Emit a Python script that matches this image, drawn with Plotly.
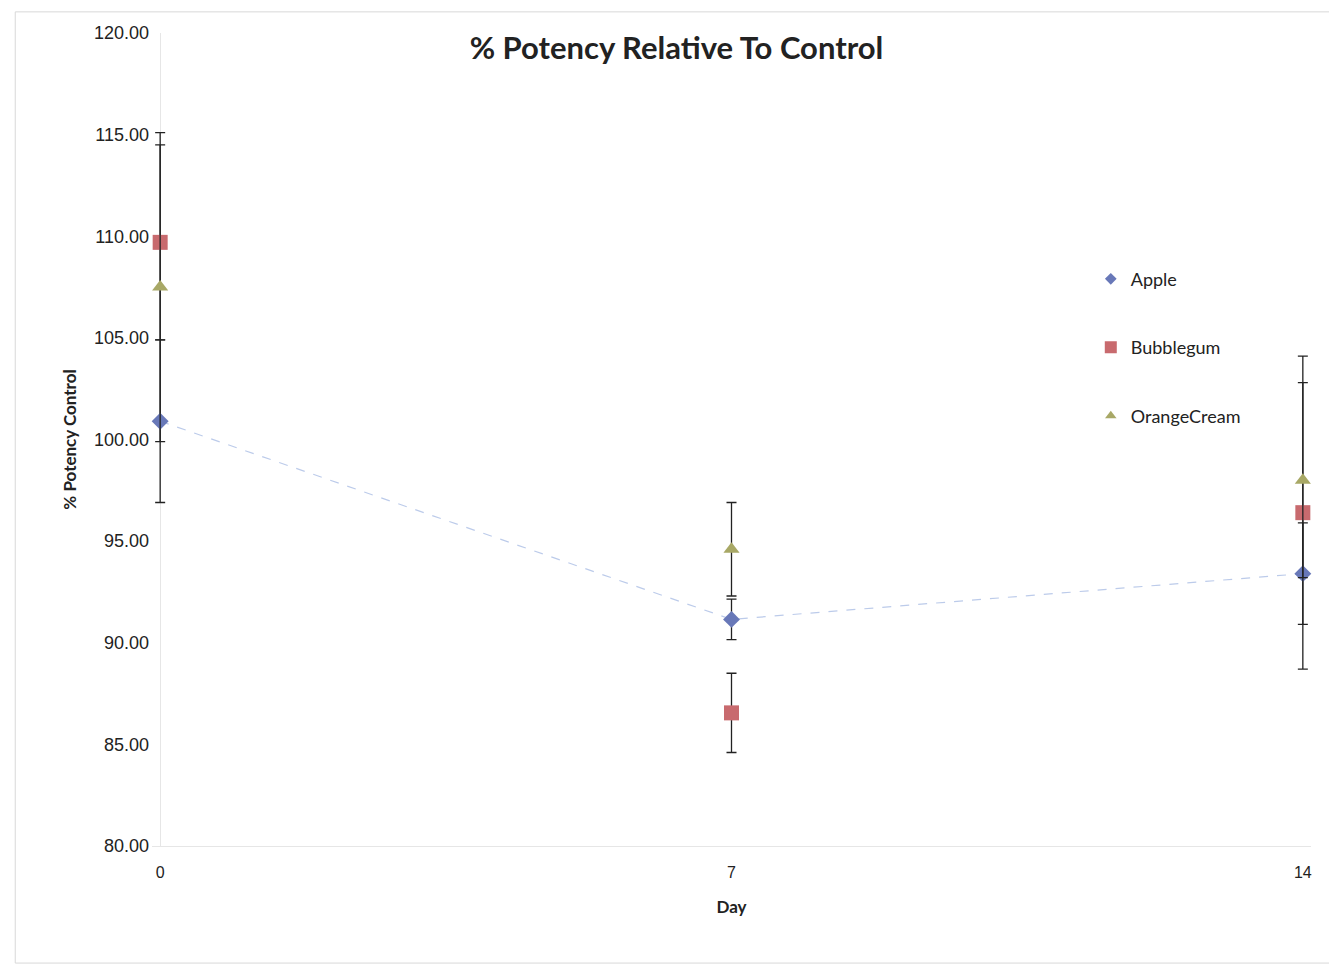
import plotly.graph_objects as go

days = [0, 7, 14]
apple = [100.9, 91.15, 93.4]
apple_err = [4.0, 1.0, 2.5]
bubblegum = [109.7, 86.55, 96.4]
bubblegum_err = [4.8, 1.95, 7.7]
orange = [107.5, 94.6, 98.0]
orange_err = [7.6, 2.3, 4.8]
y_ticks = [80, 85, 90, 95, 100, 105, 110, 115, 120]

fig = go.Figure()

# Apple connecting line (not in legend)
fig.add_trace(go.Scatter(
    x=days, y=apple, mode="lines", showlegend=False, hoverinfo="skip",
    line=dict(color="#bccbea", width=1.2, dash="dash"), cliponaxis=False,
))

def add(name, y, err, symbol, color, size, legsize):
    fig.add_trace(go.Scatter(
        x=days, y=y, name=name, legendgroup=name, mode="markers",
        showlegend=False,
        marker=dict(symbol=symbol, color=color, size=size, line=dict(width=0)),
        error_y=dict(type="data", array=err, visible=True,
                     color="#222222", thickness=1.3, width=5),
        cliponaxis=False,
    ))
    # legend entry with smaller symbol
    fig.add_trace(go.Scatter(
        x=[None], y=[None], name=name, legendgroup=name, mode="markers",
        marker=dict(symbol=symbol, color=color, size=legsize, line=dict(width=0)),
    ))

add("Apple", apple, apple_err, "diamond", "#6878b8", 13, 9)
add("Bubblegum", bubblegum, bubblegum_err, "square", "#c86a6e", 15, 12)
add("OrangeCream", orange, orange_err, "triangle-up", "#a8a866", 14, 10)

fig.update_layout(
    width=1337, height=969,
    paper_bgcolor="white", plot_bgcolor="white",
    margin=dict(l=144, r=34, t=25, b=131),
    title=dict(text="<b>% Potency Relative To Control</b>",
               x=0.5, xanchor="center", y=0.9587, yanchor="middle",
               font=dict(family="Lato, Open Sans, sans-serif", size=31, color="#222222")),
    legend=dict(x=0.81, y=0.72, xanchor="left", yanchor="top",
                bgcolor="rgba(0,0,0,0)", tracegroupgap=42,
                traceorder="grouped",
                font=dict(family="Lato, Open Sans, sans-serif", size=18, color="#222222"),
                itemwidth=30),
    showlegend=True,
    font=dict(family="Liberation Sans, Arial, sans-serif", color="#333333"),
)

fig.update_xaxes(
    range=[-0.1, 14.1], tickvals=days, ticktext=[str(d) for d in days],
    showgrid=False, zeroline=True, zerolinecolor="#e6e6e6", zerolinewidth=1,
    showline=True, linecolor="#e6e6e6",
    ticks="", ticklabelstandoff=12, tickfont=dict(size=16, color="#222222"),
    title=dict(text="<b>Day</b>", font=dict(family="Lato, Open Sans, sans-serif", size=17, color="#222222"), standoff=20),
)
fig.update_yaxes(
    range=[80, 120], tickvals=y_ticks, ticktext=[f"{v:.2f}" for v in y_ticks],
    showgrid=False, zeroline=False, showline=False,
    ticks="", ticklabelstandoff=2, tickfont=dict(size=18, color="#222222"),
    title=dict(text="<b>% Potency Control</b>", font=dict(family="Lato, Open Sans, sans-serif", size=17, color="#222222"), standoff=12),
)

fig.add_shape(type="rect", xref="paper", yref="paper",
              x0=-0.118, x1=1.018, y0=-0.144, y1=1.026,
              line=dict(color="#d8d8d8", width=1), layer="below")

fig.write_html("out.html")
